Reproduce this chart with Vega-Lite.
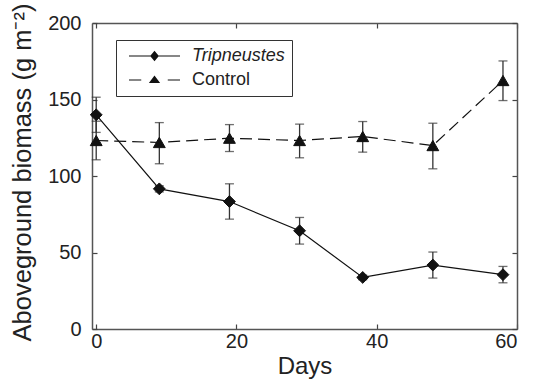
{
  "$schema": "https://vega.github.io/schema/vega-lite/v6.json",
  "autosize": {"type": "none"},
  "width": 425,
  "height": 306,
  "padding": {"left": 92, "top": 23, "right": 20, "bottom": 51},
  "background": "white",
  "config": {
    "view": {"stroke": null},
    "font": "Liberation Sans",
    "axis": {
      "grid": false,
      "domainColor": "#555",
      "domainWidth": 1.5,
      "tickColor": "#444",
      "tickWidth": 1.2,
      "tickSize": -5,
      "labelFont": "Liberation Sans",
      "labelFontSize": 20,
      "labelColor": "#222",
      "titleFont": "Liberation Sans",
      "titleFontSize": 24,
      "titleFontWeight": "normal",
      "titleColor": "#222"
    }
  },
  "data": {
    "values": [
      {"day": 0, "series": "Tripneustes", "mean": 140, "lo": 128.5, "hi": 151.5},
      {"day": 9, "series": "Tripneustes", "mean": 91.6, "lo": 89.6, "hi": 93.6},
      {"day": 19, "series": "Tripneustes", "mean": 83.3, "lo": 71.8, "hi": 94.9},
      {"day": 29, "series": "Tripneustes", "mean": 64.2, "lo": 55.5, "hi": 72.9},
      {"day": 38, "series": "Tripneustes", "mean": 33.7, "lo": 32.2, "hi": 35.2},
      {"day": 48, "series": "Tripneustes", "mean": 41.8, "lo": 33.3, "hi": 50.3},
      {"day": 58, "series": "Tripneustes", "mean": 35.5, "lo": 30.2, "hi": 40.9},
      {"day": 0, "series": "Control", "mean": 123.2, "lo": 110.6, "hi": 135.8},
      {"day": 9, "series": "Control", "mean": 121.9, "lo": 108, "hi": 134.9},
      {"day": 19, "series": "Control", "mean": 124.7, "lo": 116, "hi": 133.6},
      {"day": 29, "series": "Control", "mean": 123.2, "lo": 111.9, "hi": 133.9},
      {"day": 38, "series": "Control", "mean": 125.8, "lo": 115.6, "hi": 135.6},
      {"day": 48, "series": "Control", "mean": 119.9, "lo": 104.7, "hi": 134.5},
      {"day": 58, "series": "Control", "mean": 162.4, "lo": 149.3, "hi": 175.2}
    ]
  },
  "resolve": {"axis": {"x": "independent", "y": "independent"}},
  "layer": [
    {
      "mark": {"type": "rule", "color": "#333", "strokeWidth": 1.3},
      "encoding": {
        "x": {"field": "day", "type": "quantitative", "scale": {"domain": [-0.6, 60], "nice": false, "zero": false},
              "axis": {"orient": "bottom", "values": [0, 20, 40, 60], "title": "Days", "labelPadding": 7, "titlePadding": 3}},
        "y": {"field": "lo", "type": "quantitative", "scale": {"domain": [0, 200], "nice": false},
              "axis": {"orient": "left", "values": [0, 50, 100, 150, 200], "title": "Aboveground biomass (g m⁻²)", "titleFontSize": 25.5, "titleY": 149, "labelPadding": 16, "titlePadding": 12}},
        "y2": {"field": "hi"}
      }
    },
    {
      "mark": {"type": "tick", "orient": "horizontal", "color": "#333", "size": 9, "thickness": 1.3},
      "encoding": {
        "x": {"field": "day", "type": "quantitative",
              "axis": {"orient": "top", "values": [0, 20, 40, 60], "labels": false, "title": null}},
        "y": {"field": "lo", "type": "quantitative",
              "axis": {"orient": "right", "values": [0, 50, 100, 150, 200], "labels": false, "title": null}}
      }
    },
    {
      "mark": {"type": "tick", "orient": "horizontal", "color": "#333", "size": 9, "thickness": 1.3},
      "encoding": {
        "x": {"field": "day", "type": "quantitative", "axis": null},
        "y": {"field": "hi", "type": "quantitative", "axis": null}
      }
    },
    {
      "transform": [{"filter": "datum.series === 'Tripneustes'"}],
      "mark": {"type": "line", "color": "#111", "strokeWidth": 1.2},
      "encoding": {
        "x": {"field": "day", "type": "quantitative", "axis": null},
        "y": {"field": "mean", "type": "quantitative", "axis": null}
      }
    },
    {
      "transform": [{"filter": "datum.series === 'Control'"}],
      "mark": {"type": "line", "color": "#111", "strokeWidth": 1.2, "strokeDash": [12, 6]},
      "encoding": {
        "x": {"field": "day", "type": "quantitative", "axis": null},
        "y": {"field": "mean", "type": "quantitative", "axis": null}
      }
    },
    {
      "transform": [{"filter": "datum.series === 'Tripneustes'"}],
      "mark": {"type": "point", "shape": "diamond", "filled": true, "color": "#111", "opacity": 1, "size": 140, "stroke": "#111", "strokeWidth": 1},
      "encoding": {
        "x": {"field": "day", "type": "quantitative", "axis": null},
        "y": {"field": "mean", "type": "quantitative", "axis": null}
      }
    },
    {
      "transform": [{"filter": "datum.series === 'Control'"}],
      "mark": {"type": "point", "shape": "triangle-up", "filled": true, "color": "#111", "opacity": 1, "size": 140, "stroke": "#111", "strokeWidth": 1},
      "encoding": {
        "x": {"field": "day", "type": "quantitative", "axis": null},
        "y": {"field": "mean", "type": "quantitative", "axis": null}
      }
    },
    {
      "mark": {"type": "point", "filled": true, "color": "#111", "opacity": 0, "size": 121},
      "encoding": {
        "x": {"field": "day", "type": "quantitative", "axis": null},
        "y": {"field": "mean", "type": "quantitative", "axis": null},
        "shape": {"field": "series", "type": "nominal",
                  "scale": {"domain": ["Tripneustes", "Control"],
                            "range": ["M-4.64,-0.1H4.64V0.1H-4.64ZM0,-0.97L0.79,0L0,0.97L-0.79,0Z", "M-4.64,-0.1H-2.41V0.1H-4.64ZM2.41,-0.1H4.64V0.1H2.41ZM0,-0.83L1.02,0.56L-1.02,0.56Z"]},
                  "legend": {
                    "title": null,
                    "orient": "none",
                    "legendX": 24,
                    "legendY": 17,
                    "strokeColor": "#333",
                    "fillColor": "white",
                    "padding": 7,
                    "labelFont": "Liberation Sans",
                    "labelFontSize": 18,
                    "labelColor": "#222",
                    "labelFontStyle": {"expr": "datum.value === 'Tripneustes' ? 'italic' : 'normal'"},
                    "labelOffset": 28.5,
                    "symbolOffset": 22.5,
                    "symbolSize": 121,
                    "symbolOpacity": 1,
                    "symbolFillColor": "#111",
                    "rowPadding": 6
                  }}
      }
    }
  ]
}
